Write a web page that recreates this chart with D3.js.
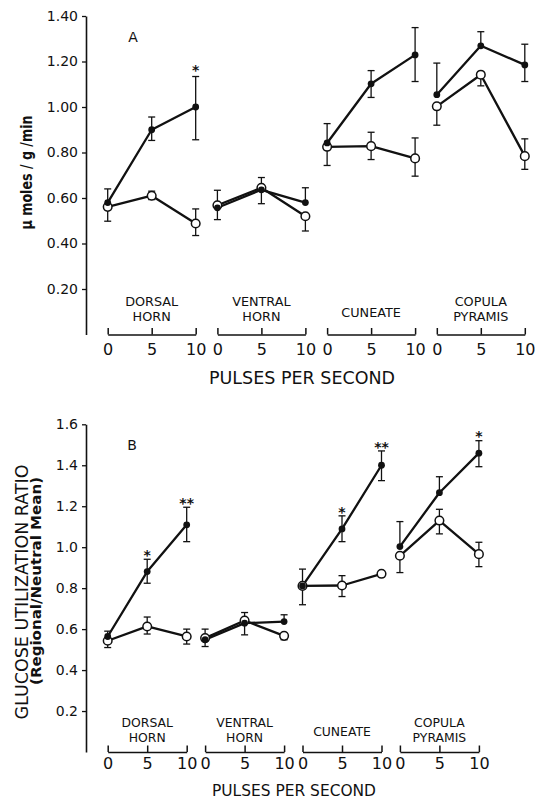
<!DOCTYPE html>
<html>
<head>
<meta charset="utf-8">
<script src="https://cdn.jsdelivr.net/npm/d3@7/dist/d3.min.js"></script>
<style>
  html, body { margin: 0; padding: 0; background: #fff; }
  svg { display: block; }
  text { font-family: "DejaVu Sans", sans-serif; fill: #111; }
</style>
</head>
<body>
<svg id="chart" width="536" height="800"></svg>
<script>
// ---------- DATA ----------
const regions = [["DORSAL", "HORN"], ["VENTRAL", "HORN"], ["CUNEATE"], ["COPULA", "PYRAMIS"]];
const pulses = [0, 5, 10];

// Panel A: µmoles/g/min (12 points: region-major, pulses 0,5,10)
const aFilled   = [0.58, 0.90, 1.00,  0.557, 0.636, 0.58,  0.842, 1.102, 1.229,  1.054, 1.269, 1.185];
const aFilledHi = [0.64, 0.956, 1.134, null, 0.69, 0.645,  0.927, 1.16, 1.349,  1.193, 1.331, 1.276];
const aFilledLo = [null, 0.853, 0.856, 0.505, null, null,  null, 1.042, 1.112,  null, null, 1.112];
const aOpen     = [0.561, 0.61, 0.488,  0.568, 0.645, 0.52,  0.825, 0.828, 0.774,  1.003, 1.142, 0.784];
const aOpenHi   = [null, 0.63, 0.552,  0.634, null, null,  null, 0.889, 0.864,  null, null, 0.86];
const aOpenLo   = [0.498, 0.593, 0.435,  null, 0.575, 0.455,  0.743, 0.769, 0.696,  0.92, 1.093, 0.726];
const aStars    = ["", "", "*",  "", "", "",  "", "", "",  "", "", ""];
const aTicks    = [0.20, 0.40, 0.60, 0.80, 1.00, 1.20, 1.40];

// Panel B: glucose utilization ratio
const bFilled   = [0.564, 0.881, 1.109,  0.548, 0.629, 0.637,  0.811, 1.089, 1.40,  1.003, 1.266, 1.459];
const bFilledHi = [0.59, 0.941, 1.195,  null, null, 0.67,  0.893, 1.153, 1.47,  1.125, 1.344, 1.52];
const bFilledLo = [null, 0.824, 1.027,  0.515, 0.572, null,  null, 1.027, 1.325,  null, null, 1.393];
const bOpen     = [0.543, 0.613, 0.564,  0.556, 0.642, 0.567,  0.811, 0.813, 0.87,  0.958, 1.13, 0.966];
const bOpenHi   = [null, 0.659, 0.60,  0.60, 0.681, null,  null, 0.861, 0.881,  null, 1.185, 1.024];
const bOpenLo   = [0.51, 0.576, 0.527,  null, null, 0.548,  0.719, 0.759, 0.857,  0.876, 1.065, 0.905];
const bStars    = ["", "*", "**",  "", "", "",  "", "*", "**",  "", "", "*"];
const bTicks    = [0.2, 0.4, 0.6, 0.8, 1.0, 1.2, 1.4, 1.6];

// ---------- DRAW ----------
const svg = d3.select("#chart");

function panel(cfg) {
  const g = svg.append("g");
  const y = d3.scaleLinear().domain([0, cfg.yMax]).range([cfg.yBottom, cfg.yTop]);
  const band = d3.scaleBand().domain(d3.range(regions.length))
    .range(cfg.xRange).paddingInner(cfg.padInner).paddingOuter(0);
  const inner = r => d3.scaleLinear().domain([0, 10]).range([band(r), band(r) + band.bandwidth()]);

  // y axis
  const ya = g.append("g").attr("transform", `translate(${cfg.axisX},0)`)
    .call(d3.axisLeft(y).tickValues(cfg.ticks).tickSize(4).tickSizeOuter(0)
      .tickPadding(4).tickFormat(d3.format(cfg.fmt)));
  ya.select(".domain").attr("stroke", "#111").attr("stroke-width", 1.6);
  ya.selectAll(".tick line").attr("stroke", "#111").attr("stroke-width", 1.3);
  ya.selectAll(".tick text").style("font-size", cfg.tickFont + "px").attr("fill", "#111");

  // region brackets
  regions.forEach((lines, r) => {
    const xs = inner(r);
    const ax = g.append("g").attr("transform", `translate(0,${cfg.yBottom})`)
      .call(d3.axisBottom(xs).tickValues(pulses).tickSizeInner(-6.5).tickSizeOuter(0)
        .tickPadding(cfg.numPad));
    ax.select(".domain").attr("stroke", "#111").attr("stroke-width", 1.5);
    ax.selectAll(".tick line").attr("stroke", "#111").attr("stroke-width", 1.5);
    ax.selectAll(".tick text").style("font-size", "16px").attr("fill", "#111");
    const cx = band(r) + band.bandwidth() / 2;
    const offs = lines.length === 2 ? cfg.twoLineOffs : [cfg.oneLineOff];
    lines.forEach((t, i) => {
      g.append("text").attr("x", cx).attr("y", cfg.yBottom + offs[i])
        .attr("text-anchor", "middle").attr("dominant-baseline", "central")
        .style("font-size", cfg.regionFont + "px").text(t);
    });
  });

  // x title
  g.append("text").attr("x", cfg.xTitle[0]).attr("y", cfg.xTitle[1])
    .attr("text-anchor", "middle").attr("dominant-baseline", "central")
    .attr("textLength", cfg.xTitle[2]).attr("lengthAdjust", "spacingAndGlyphs")
    .style("font-size", cfg.xTitle[3] + "px").text("PULSES PER SECOND");

  // y title(s)
  cfg.yTitles.forEach(t => {
    g.append("text").attr("transform", `translate(${t.x},${t.y}) rotate(-90)`)
      .attr("text-anchor", "middle")
      .attr("textLength", t.len).attr("lengthAdjust", "spacingAndGlyphs")
      .style("font-size", t.size + "px").style("font-weight", t.bold ? "bold" : "normal")
      .text(t.text);
  });

  // panel letter
  g.append("text").attr("x", cfg.letter[0]).attr("y", cfg.letter[1])
    .attr("text-anchor", "middle").attr("dominant-baseline", "central")
    .style("font-size", cfg.letter[2] + "px").text(cfg.letter[3]);

  const pts = (vals, hi, lo) => vals.map((v, i) => ({
    r: Math.floor(i / 3), p: pulses[i % 3], v, hi: hi[i], lo: lo[i]
  }));
  const filled = pts(cfg.filled, cfg.filledHi, cfg.filledLo);
  const open = pts(cfg.open, cfg.openHi, cfg.openLo);
  const X = d => inner(d.r)(d.p);

  // error bars
  const eb = g.append("g").attr("stroke", "#111").attr("stroke-width", 1.3).attr("fill", "none");
  [...filled, ...open].forEach(d => {
    [d.hi, d.lo].forEach(e => {
      if (e == null) return;
      eb.append("line").attr("x1", X(d)).attr("x2", X(d)).attr("y1", y(d.v)).attr("y2", y(e));
      eb.append("line").attr("x1", X(d) - 3.5).attr("x2", X(d) + 3.5).attr("y1", y(e)).attr("y2", y(e));
    });
  });

  // lines per region
  const line = d3.line().x(X).y(d => y(d.v));
  [open, filled].forEach(series => {
    d3.range(regions.length).forEach(r => {
      g.append("path").datum(series.filter(d => d.r === r))
        .attr("d", line).attr("fill", "none").attr("stroke", "#111")
        .attr("stroke-width", 2.3).attr("stroke-linejoin", "round");
    });
  });

  // markers
  g.append("g").selectAll("circle").data(open).join("circle")
    .attr("cx", X).attr("cy", d => y(d.v)).attr("r", 4.3)
    .attr("fill", "#fff").attr("stroke", "#111").attr("stroke-width", 1.5);
  g.append("g").selectAll("circle").data(filled).join("circle")
    .attr("cx", X).attr("cy", d => y(d.v)).attr("r", 3.4).attr("fill", "#111");

  // significance stars
  filled.forEach((d, i) => {
    const s = cfg.stars[i];
    if (!s) return;
    g.append("text").attr("x", X(d)).attr("y", y(d.hi) - cfg.starOff + 8.3)
      .attr("text-anchor", "middle").style("font-size", "14px").style("font-weight", "bold")
      .text(s);
  });
}

panel({
  yMax: 1.4, yTop: 16, yBottom: 334.5, axisX: 86, ticks: aTicks, fmt: ".2f", tickFont: 14,
  xRange: [107.7, 524.8], padInner: 0.198, numPad: 9,
  twoLineOffs: [-33.3, -18.2], oneLineOff: -21.8, regionFont: 12.8,
  xTitle: [302, 378.3, 186, 17],
  yTitles: [{ text: "μ moles / g /min", x: 31.5, y: 172.5, len: 114, size: 16, bold: true }],
  letter: [133, 37, 14, "A"],
  filled: aFilled, filledHi: aFilledHi, filledLo: aFilledLo,
  open: aOpen, openHi: aOpenHi, openLo: aOpenLo, stars: aStars, starOff: 10
});

panel({
  yMax: 1.6, yTop: 424.3, yBottom: 752, axisX: 86, ticks: bTicks, fmt: ".1f", tickFont: 14,
  xRange: [107.7, 478.9], padInner: 0.189, numPad: 6,
  twoLineOffs: [-29.6, -15], oneLineOff: -20.5, regionFont: 12.4,
  xTitle: [294, 790.7, 164, 15.5],
  yTitles: [
    { text: "GLUCOSE  UTILIZATION RATIO", x: 28, y: 592, len: 255, size: 17, bold: false },
    { text: "(Regional/Neutral Mean)", x: 40.5, y: 581, len: 208, size: 14.5, bold: true }
  ],
  letter: [132, 445, 14, "B"],
  filled: bFilled, filledHi: bFilledHi, filledLo: bFilledLo,
  open: bOpen, openHi: bOpenHi, openLo: bOpenLo, stars: bStars, starOff: 7.5
});
</script>
</body>
</html>
